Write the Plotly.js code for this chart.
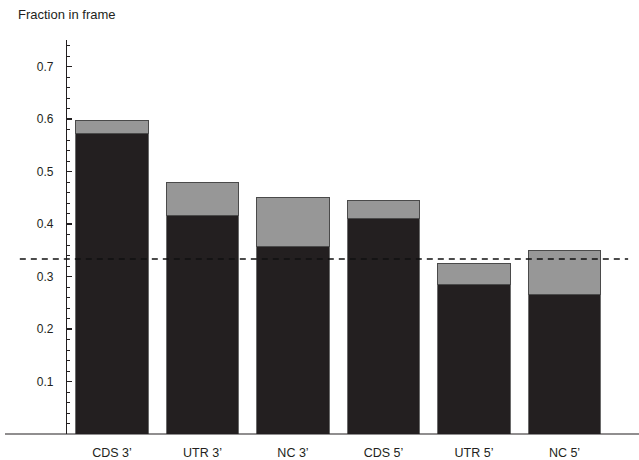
<!DOCTYPE html>
<html>
<head>
<meta charset="utf-8">
<script src="https://cdn.plot.ly/plotly-3.0.1.min.js"></script>
<style>html,body{margin:0;padding:0;background:#fff;}#chart{width:639px;height:460px;}</style>
</head>
<body>
<div id="chart"></div>
<script>
var categories = ["CDS 3\u2019", "UTR 3\u2019", "NC 3\u2019", "CDS 5\u2019", "UTR 5\u2019", "NC 5\u2019"];
var inFrameLower = [0.573, 0.417, 0.357, 0.410, 0.285, 0.266];
var inFrameExtra = [0.024, 0.062, 0.094, 0.034, 0.040, 0.084];
var chanceLevel = 0.3333;
var yTickVals = [0.1, 0.2, 0.3, 0.4, 0.5, 0.6, 0.7];
var yTickText = ["0.1", "0.2", "0.3", "0.4", "0.5", "0.6", "0.7"];

var yMax = 0.7505;
var FONT = "Liberation Sans, Arial, Helvetica, sans-serif";
var INK = "#231f20";

var traces = [
  {
    type: "bar", x: categories, y: inFrameLower,
    marker: {color: INK, line: {color: "#6a6a6a", width: 1}},
    hoverinfo: "x+y"
  },
  {
    type: "bar", x: categories, y: inFrameExtra,
    marker: {color: "#979797", line: {color: "#4a4a4a", width: 1}},
    hoverinfo: "x+y"
  }
];

var layout = {
  width: 639, height: 460,
  margin: {l: 67, r: 0, t: 40, b: 26},
  paper_bgcolor: "#fff", plot_bgcolor: "#fff",
  barmode: "stack",
  bargap: 0.197,
  showlegend: false,
  font: {family: FONT, size: 12, color: INK},
  xaxis: {
    type: "category",
    range: [-0.497, 5.823],
    showline: false, showgrid: false, zeroline: false,
    ticks: "", ticklabelstandoff: 9,
    tickfont: {family: FONT, size: 12.5, color: INK},
    automargin: false, fixedrange: true
  },
  yaxis: {
    range: [0, yMax],
    showline: true, linecolor: INK, linewidth: 1.2,
    showgrid: false, zeroline: false,
    tickmode: "array", tickvals: yTickVals, ticktext: yTickText,
    ticks: "inside", ticklen: 5, tickwidth: 1.2, tickcolor: INK,
    minor: {dtick: 0.02, tick0: 0, ticks: "inside", ticklen: 3, tickwidth: 1, tickcolor: INK},
    ticklabelstandoff: 10,
    tickfont: {family: FONT, size: 12, color: INK},
    automargin: false, fixedrange: true
  },
  shapes: [
    {type: "line", xref: "paper", yref: "paper", x0: -0.1084, x1: 1, y0: 0, y1: 0,
     line: {color: INK, width: 1.2}},
    {type: "line", xref: "paper", yref: "paper", x0: -0.0825, x1: 0.981,
     y0: chanceLevel / yMax, y1: chanceLevel / yMax,
     line: {color: "#111", width: 1.4, dash: "6px,5px"}}
  ],
  annotations: [
    {text: "Fraction in frame", xref: "paper", yref: "paper",
     x: -0.0892, y: 1.0635, xanchor: "left", yanchor: "middle",
     showarrow: false, font: {family: FONT, size: 13, color: INK}}
  ]
};

Plotly.newPlot("chart", traces, layout, {displayModeBar: false, staticPlot: true});
</script>
</body>
</html>
